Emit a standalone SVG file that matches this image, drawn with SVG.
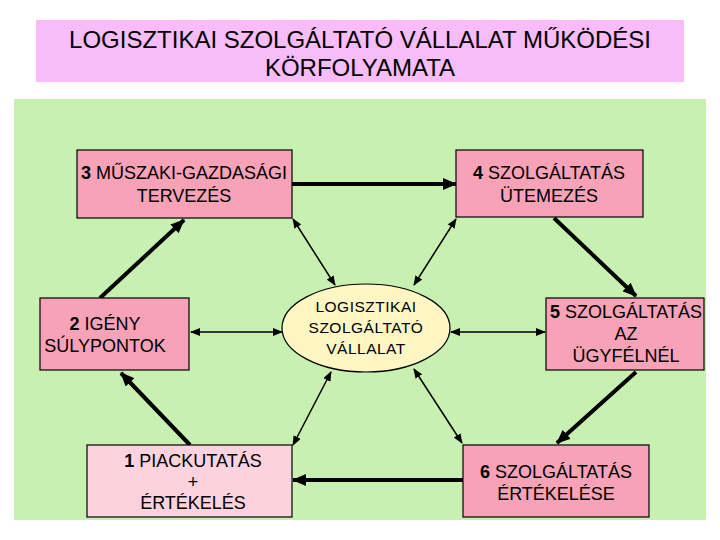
<svg xmlns="http://www.w3.org/2000/svg" width="720" height="540" viewBox="0 0 720 540">
<style>
text{font-family:"Liberation Sans",Arial,sans-serif;fill:#000;text-anchor:middle}
.t{font-size:24px}
.b{font-size:18px}
.e{font-size:15.5px;letter-spacing:0.5px}
.n{font-weight:bold}
.box{fill:#F7A2B6;stroke:#000;stroke-width:1.2}
.thick{stroke:#000;stroke-width:4;fill:none;marker-end:url(#hb)}
.thin{stroke:#000;stroke-width:1.5;fill:none;marker-start:url(#hs);marker-end:url(#hs)}
</style>
<defs>
<marker id="hb" markerUnits="userSpaceOnUse" markerWidth="14" markerHeight="12" viewBox="0 0 14 12" refX="13" refY="6" orient="auto"><path d="M0,0 L14,6 L0,12 z" fill="#000"/></marker>
<marker id="hs" markerUnits="userSpaceOnUse" markerWidth="10" markerHeight="8" viewBox="0 0 10 8" refX="9" refY="4" orient="auto-start-reverse"><path d="M0,0 L10,4 L0,8 z" fill="#000"/></marker>
</defs>
<rect width="720" height="540" fill="#fff"/>
<g id="title">
<rect x="36" y="20" width="648" height="62" fill="#F8BCF8"/>
<text class="t" x="360" y="48">LOGISZTIKAI SZOLGÁLTATÓ VÁLLALAT MŰKÖDÉSI</text>
<text class="t" x="360" y="76">KÖRFOLYAMATA</text>
</g>
<rect x="14" y="99" width="692" height="421" fill="#C8F0B0"/>
<g id="connectors">
<line class="thick" x1="292" y1="184" x2="456" y2="184"/>
<line class="thick" x1="554" y1="218" x2="636" y2="296"/>
<line class="thick" x1="636" y1="372" x2="557" y2="443"/>
<line class="thick" x1="463" y1="480" x2="293" y2="480"/>
<line class="thick" x1="190" y1="445" x2="121" y2="373"/>
<line class="thick" x1="100" y1="298" x2="184" y2="220"/>
<line class="thin" x1="293" y1="219" x2="335" y2="285"/>
<line class="thin" x1="456" y1="219" x2="414" y2="285"/>
<line class="thin" x1="191" y1="332" x2="282" y2="332"/>
<line class="thin" x1="545" y1="332" x2="451" y2="332"/>
<line class="thin" x1="331" y1="372" x2="293" y2="445"/>
<line class="thin" x1="414" y1="369" x2="462" y2="443"/>
</g>
<g id="n3">
<rect class="box" x="77" y="150" width="215" height="68"/>
<text class="b" x="184" y="179"><tspan class="n">3</tspan> MŰSZAKI-GAZDASÁGI</text>
<text class="b" x="184" y="202">TERVEZÉS</text>
</g>
<g id="n4">
<rect class="box" x="456" y="150" width="187" height="67"/>
<text class="b" x="549" y="179"><tspan class="n">4</tspan> SZOLGÁLTATÁS</text>
<text class="b" x="549" y="202">ÜTEMEZÉS</text>
</g>
<g id="n2">
<rect class="box" x="40" y="298" width="149" height="72"/>
<text class="b" x="105" y="330"><tspan class="n">2</tspan> IGÉNY</text>
<text class="b" x="105" y="352">SÚLYPONTOK</text>
</g>
<g id="center">
<ellipse cx="366" cy="328" rx="84" ry="44" fill="#FFF6C4" stroke="#000" stroke-width="1.2"/>
<text class="e" x="366" y="312">LOGISZTIKAI</text>
<text class="e" x="366" y="333">SZOLGÁLTATÓ</text>
<text class="e" x="366" y="354">VÁLLALAT</text>
</g>
<g id="n5">
<rect class="box" x="546" y="298" width="158" height="72"/>
<text class="b" x="626" y="318"><tspan class="n">5</tspan> SZOLGÁLTATÁS</text>
<text class="b" x="626" y="340">AZ</text>
<text class="b" x="626" y="362">ÜGYFÉLNÉL</text>
</g>
<g id="n1">
<rect x="87" y="445" width="205" height="72" fill="#FCD2DE" stroke="#000" stroke-width="1.2"/>
<text class="b" x="193" y="467"><tspan class="n">1</tspan> PIACKUTATÁS</text>
<text class="b" x="193" y="488">+</text>
<text class="b" x="193" y="509">ÉRTÉKELÉS</text>
</g>
<g id="n6">
<rect class="box" x="463" y="445" width="186" height="72"/>
<text class="b" x="556" y="478"><tspan class="n">6</tspan> SZOLGÁLTATÁS</text>
<text class="b" x="556" y="500">ÉRTÉKELÉSE</text>
</g>
</svg>
